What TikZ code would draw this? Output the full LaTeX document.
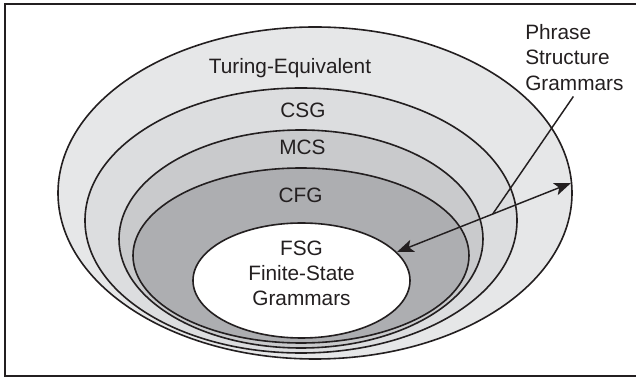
\documentclass[tikz,border=0pt]{standalone}
\usepackage{fontspec}
\setmainfont{Liberation Sans}
\usetikzlibrary{arrows.meta,calc}

\begin{document}
\begin{tikzpicture}[x=0.75pt,y=0.75pt,yscale=-1,xscale=1,
  ring/.style={draw={rgb, 255:red, 35; green, 31; blue, 32 }, line width=1.2},
  lbl/.style={font=\fontsize{15.6}{19}\selectfont, text={rgb, 255:red, 35; green, 31; blue, 32 }, inner sep=0},
  tip/.style={{Stealth[length=12.5pt,width=9.5pt,inset=3pt]}-{Stealth[length=12.5pt,width=9.5pt,inset=3pt]}}]
%set diagram left start at 0, and has height of 377
\useasboundingbox (0,0) rectangle (636,377);

%Straight Lines: frame
\draw [color={rgb, 255:red, 35; green, 31; blue, 32 }, line width=1.5]    (640,4) -- (5,4) -- (5,376) -- (640,376) ;
%Shape: Ellipse (Turing-Equivalent)
\draw  [ring, fill={rgb, 255:red, 230; green, 231; blue, 232 }  ,fill opacity=1 ] (315,193) ellipse (257 and 166) ;
%Shape: Ellipse (CSG)
\draw  [ring, fill={rgb, 255:red, 220; green, 221; blue, 223 }  ,fill opacity=1 ] (301,220.5) ellipse (216 and 132.5) ;
%Shape: Ellipse (MCS)
\draw  [ring, fill={rgb, 255:red, 201; green, 202; blue, 204 }  ,fill opacity=1 ] (301,239) ellipse (182 and 109) ;
%Shape: Ellipse (CFG)
\draw  [ring, fill={rgb, 255:red, 173; green, 174; blue, 177 }  ,fill opacity=1 ] (301,255.5) ellipse (168 and 87.5) ;
%Shape: Ellipse (FSG)
\draw  [ring, fill={rgb, 255:red, 255; green, 255; blue, 255 }  ,fill opacity=1 ] (301.5,280.5) ellipse (108.5 and 57.5) ;

% Text Nodes
\draw (290,73.5) node [lbl, anchor=base] (turing) {Turing-Equivalent};
\draw (303,117.7) node [lbl, anchor=base] (csg) {CSG};
\draw (302.5,155) node [lbl, anchor=base] (mcs) {MCS};
\draw (300.5,203) node [lbl, anchor=base] (cfg) {CFG};
\draw (301.5,273.5) node [lbl, align=center] (fsg) {FSG\\Finite-State\\Grammars};
\draw (525,24) node [lbl, anchor=north west, align=left] (psg) {Phrase\\Structure\\Grammars};

%Straight Lines: double arrow
\coordinate (fsgTip) at (397,252);
\coordinate (outerTip) at (571,183);
\draw [ring, line width=1.1, tip]    (fsgTip) -- (outerTip) ;
%Straight Lines: pointer
\coordinate (psgFoot) at ($(fsgTip)!0.55!(outerTip)$);
\draw [ring, line width=1.1]    ($(psg.south)+(-1,6)$) -- (psgFoot) ;
\end{tikzpicture}
\end{document}
